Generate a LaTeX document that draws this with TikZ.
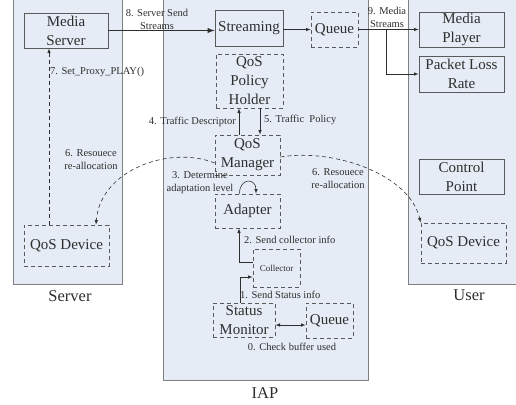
\documentclass[tikz,border=0pt]{standalone}
\usepackage{fontspec}
\setmainfont{Liberation Serif}
\usepackage{tikz}

\definecolor{panelfill}{HTML}{E6ECF6}
\definecolor{panelline}{HTML}{808080}
\definecolor{boxline}{HTML}{5A5A5A}
\definecolor{inkgray}{HTML}{2E2E2E}

\begin{document}
\begin{tikzpicture}[x=1pt, y=-1pt,
    every node/.style={text=inkgray},
    box/.style={draw=boxline, thick, align=center, inner sep=1pt, font=\fontsize{15}{19}\selectfont},
    dbox/.style={box, dashed, dash pattern=on 4pt off 3pt},
    lbl/.style={align=center, inner sep=0pt, font=\fontsize{10.5}{13}\selectfont},
    panel/.style={draw=panelline, fill=panelfill, thick},
    paneltitle/.style={inner sep=0pt, font=\fontsize{16.5}{20}\selectfont},
    flow/.style={-latex, semithick, inkgray},
    dflow/.style={-latex, semithick, inkgray, dashed, dash pattern=on 4pt off 3pt}]

\useasboundingbox (0,0) rectangle (516,404);

% Panels
\draw[panel] (13,-5) rectangle (122,284);
\draw[panel] (163,-5) rectangle (368,380);
\draw[panel] (408,-5) rectangle (530,284);

\node[paneltitle] (srvcap) at (70,296) {Server};
\node[paneltitle] (iapcap) at (265,393) {IAP};
\node[paneltitle] (usrcap) at (469,295) {User};

% Server side
\node[box, minimum width=84pt, minimum height=35pt] (mserver) at (66,30.5) {Media\\Server};
\node[dbox, minimum width=85pt, minimum height=41pt] (devs) at (66.5,245.5) {QoS Device};

% IAP side
\node[box, minimum width=68pt, minimum height=36pt] (stream) at (249,28) {Streaming};
\node[dbox, minimum width=47pt, minimum height=35pt] (queuea) at (334.5,29.5) {Queue};
\node[dbox, minimum width=67pt, minimum height=54pt] (holder) at (249.5,81) {QoS\\Policy\\Holder};
\node[dbox, minimum width=65pt, minimum height=40pt] (manager) at (247.5,155) {QoS\\Manager};
\node[dbox, minimum width=65pt, minimum height=34pt] (adapter) at (247.5,211) {Adapter};
\node[dbox, minimum width=47pt, minimum height=38pt, font=\fontsize{9}{11}\selectfont] (collector) at (276.5,268) {Collector};
\node[dbox, minimum width=62pt, minimum height=34pt] (monitor) at (244,320) {Status\\Monitor};
\node[dbox, minimum width=47pt, minimum height=35pt] (queueb) at (329.5,320.5) {Queue};

% User side
\node[box, minimum width=85pt, minimum height=35pt] (mplayer) at (461.5,29.5) {Media\\Player};
\node[box, minimum width=85pt, minimum height=36pt] (plr) at (461.5,74) {Packet Loss\\Rate};
\node[box, minimum width=85pt, minimum height=35pt] (cpoint) at (461.5,176.5) {Control\\Point};
\node[dbox, minimum width=85pt, minimum height=40pt] (devu) at (463.5,243) {QoS Device};

% Streams
\draw[-latex, line width=1.4pt, inkgray] (mserver.east) -- (mserver.east -| stream.west);
\node[lbl] (l8) at (157,19) {8. Server Send\\Streams};
\draw[flow] (stream.east |- queuea.west) -- (queuea.west);
\draw[flow] (queuea.east) -- (mplayer.west);
\coordinate (split) at (386,29.5);
\draw[flow] (split) |- (plr.west);
\node[lbl] (l9) at (387,17) {9. Media\\Streams};

% Policy exchange
\draw[flow] ([xshift=-8.5pt]manager.north) -- ([xshift=-8.5pt]manager.north |- holder.south);
\draw[flow] ([xshift=12.5pt]manager.north |- holder.south) -- ([xshift=12.5pt]manager.north);
\node[lbl, anchor=east] (l4) at (236,122) {4. Traffic Descriptor};
\node[lbl, anchor=west] (l5) at (264,120) {5. Traffic~ Policy};

% Adaptation loop
\draw[flow] ([xshift=-8pt]adapter.north) .. controls +(0,-16) and +(0,-16) .. ([xshift=8.5pt]adapter.north);
\node[lbl] (l3) at (200,183) {3. Determine\\adaptation level};

% Collected info
\draw[flow] ([yshift=6pt]collector.west) -| ([xshift=-8.5pt]adapter.south);
\node[lbl, anchor=west] (l2) at (244,240) {2. Send collector info};
\draw[flow] ([xshift=-4pt]monitor.north) |- ([yshift=-9pt]collector.west);
\node[lbl, anchor=west] (l1) at (240,295) {1. Send Status info};
\draw[latex-latex, semithick, inkgray] ([yshift=-5pt]monitor.east) -- ([yshift=-5pt]monitor.east -| queueb.west);
\node[lbl] (l0) at (292,347) {0. Check buffer used};

% Control to server and user
\draw[dflow] ([xshift=-17.5pt]devs.north) -- ([xshift=-17.5pt]devs.north |- mserver.south);
\node[lbl, anchor=west] (l7) at (50,72) {7. Set\_Proxy\_PLAY()};
\draw[dflow] ([yshift=-8pt]manager.west) .. controls (170,145) and (100,170) .. ([xshift=29.5pt]devs.north);
\node[lbl] (l6a) at (91,160) {6. Resouece\\re-allocation};
\draw[dflow] ([yshift=-2pt]manager.east) .. controls (335,148) and (410,175) .. (devu.north west);
\node[lbl] (l6b) at (338,179) {6. Resouece\\re-allocation};

\end{tikzpicture}
\end{document}
